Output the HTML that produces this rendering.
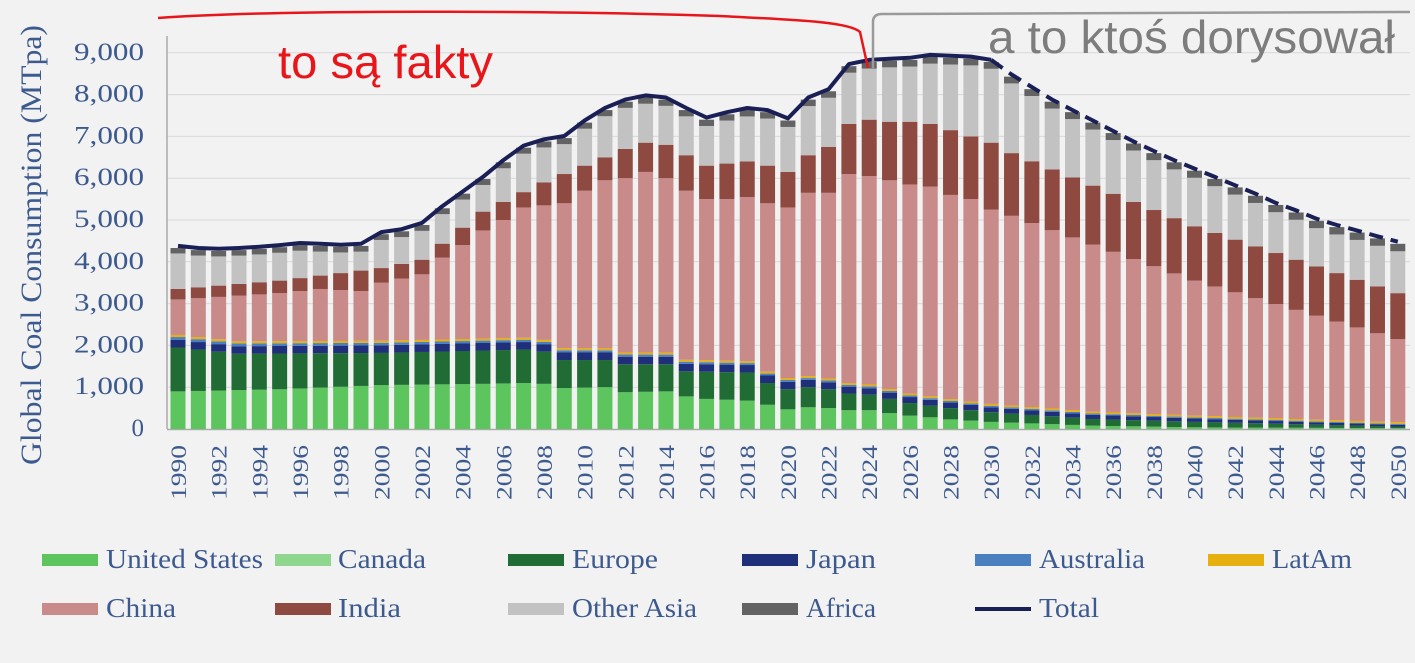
<!DOCTYPE html>
<html><head><meta charset="utf-8"><style>
body{margin:0;background:#f2f2f2;}
svg{display:block}
</style></head><body>
<svg id="c" width="1415" height="663" xmlns="http://www.w3.org/2000/svg">
<rect width="1415" height="663" fill="#f2f2f2"/>
<g id="grid"></g>
<g id="bars"></g>
<g id="lines"></g>
<g font-family="Liberation Serif, serif" fill="#3d5a8e" id="labels"></g>
<text transform="translate(41,245) rotate(-90)" text-anchor="middle" font-family="Liberation Serif, serif" font-size="30" fill="#3d5a8e" textLength="440" lengthAdjust="spacingAndGlyphs">Global Coal Consumption (MTpa)</text>
<g font-family="Liberation Serif, serif" font-size="27" fill="#3d5a8e">
<rect x="42" y="554" width="56" height="12" fill="#5dc55d"/><text x="106" y="568" textLength="157" lengthAdjust="spacingAndGlyphs">United States</text>
<rect x="275" y="554" width="56" height="12" fill="#8fd68f"/><text x="338" y="568" textLength="88" lengthAdjust="spacingAndGlyphs">Canada</text>
<rect x="508" y="554" width="56" height="12" fill="#216b35"/><text x="572" y="568" textLength="86" lengthAdjust="spacingAndGlyphs">Europe</text>
<rect x="742" y="554" width="56" height="12" fill="#1f2f7a"/><text x="806" y="568" textLength="70" lengthAdjust="spacingAndGlyphs">Japan</text>
<rect x="975" y="554" width="56" height="12" fill="#4a80bf"/><text x="1039" y="568" textLength="106" lengthAdjust="spacingAndGlyphs">Australia</text>
<rect x="1208" y="554" width="56" height="12" fill="#e6b010"/><text x="1272" y="568" textLength="80" lengthAdjust="spacingAndGlyphs">LatAm</text>
<rect x="42" y="603" width="56" height="12" fill="#c98a8a"/><text x="106" y="617" textLength="70" lengthAdjust="spacingAndGlyphs">China</text>
<rect x="275" y="603" width="56" height="12" fill="#8e4a40"/><text x="338" y="617" textLength="63" lengthAdjust="spacingAndGlyphs">India</text>
<rect x="508" y="603" width="56" height="12" fill="#c2c2c2"/><text x="572" y="617" textLength="125" lengthAdjust="spacingAndGlyphs">Other Asia</text>
<rect x="742" y="603" width="56" height="12" fill="#636363"/><text x="806" y="617" textLength="70" lengthAdjust="spacingAndGlyphs">Africa</text>
<rect x="975" y="607" width="56" height="4" fill="#1a1f55"/><text x="1039" y="617" textLength="60" lengthAdjust="spacingAndGlyphs">Total</text>
</g>
<path d="M158,18 C300,8 600,12 720,16 C800,20 850,22 860,32 L868,68" fill="none" stroke="#e8161b" stroke-width="2.5"/>
<text x="278" y="78" font-family="Liberation Sans, sans-serif" font-size="46" fill="#e8161b" textLength="215" lengthAdjust="spacingAndGlyphs">to są fakty</text>
<path d="M873,68 L873,22 Q873,14 882,14 L1410,12" fill="none" stroke="#9a9a9a" stroke-width="2.5"/>
<text x="988" y="53" font-family="Liberation Sans, sans-serif" font-size="46" fill="#7d7d7d" textLength="407" lengthAdjust="spacingAndGlyphs">a to ktoś dorysował</text>
</svg>
<script>
function interp(k,y){for(var i=0;i<k.length-1;i++){if(y>=k[i][0]&&y<=k[i+1][0]){var t=(y-k[i][0])/(k[i+1][0]-k[i][0]);return k[i][1]+t*(k[i+1][1]-k[i][1]);}}return k[k.length-1][1];}
var Y0=429,S=41.8/1000;
function py(v){return Y0-v*S;}
var NS="http://www.w3.org/2000/svg";
function el(n,a,p){var e=document.createElementNS(NS,n);for(var k in a)e.setAttribute(k,a[k]);p.appendChild(e);return e;}
var grid=document.getElementById('grid'),bars=document.getElementById('bars'),lines=document.getElementById('lines'),labels=document.getElementById('labels');
for(var g=1;g<=9;g++)el('line',{x1:167,x2:1410,y1:py(g*1000),y2:py(g*1000),stroke:'#d8d8d8','stroke-width':1},grid);
for(var g=0;g<=9;g++){var a={x:144,y:py(g*1000)+7,'text-anchor':'end','font-size':25};if(g>0){a.textLength=70;a.lengthAdjust='spacingAndGlyphs';}var t=el('text',a,labels);t.textContent=g==0?'0':(g+',000');}
el('line',{x1:167,x2:167,y1:36,y2:429,stroke:'#aaaaaa','stroke-width':1.5},grid);
var US=[[1990,900],[1995,950],[2000,1050],[2005,1080],[2007,1100],[2008,1080],[2009,980],[2011,1000],[2012,880],[2014,900],[2015,780],[2016,720],[2018,680],[2019,580],[2020,470],[2021,520],[2022,500],[2023,450],[2024,450],[2025,380],[2026,320],[2027,280],[2028,230],[2030,170],[2035,80],[2040,40],[2050,20]];
var EU=[[1990,1950],[1993,1800],[2000,1820],[2007,1900],[2008,1850],[2009,1650],[2011,1650],[2012,1550],[2014,1550],[2015,1380],[2018,1350],[2019,1100],[2020,950],[2021,1000],[2022,950],[2023,850],[2024,820],[2025,720],[2026,620],[2027,560],[2028,500],[2030,400],[2035,240],[2040,170],[2050,60]];
var JP=[[1990,180],[2020,180],[2030,120],[2050,40]],AU=[[1990,70],[2050,20]],LA=[[1990,50],[2050,40]];
var CN=[[1990,3100],[1995,3250],[1997,3350],[1999,3300],[2000,3500],[2002,3700],[2003,4100],[2004,4400],[2005,4750],[2006,5000],[2007,5300],[2008,5350],[2009,5400],[2010,5700],[2011,5950],[2012,6000],[2013,6150],[2014,6000],[2015,5700],[2016,5500],[2017,5500],[2018,5550],[2019,5400],[2020,5300],[2021,5650],[2022,5650],[2023,6100],[2024,6050],[2025,5950],[2026,5850],[2027,5800],[2028,5600],[2029,5500],[2030,5250],[2031,5100],[2040,3550],[2050,2150]];
var IN=[[1990,3350],[1995,3550],[2000,3850],[2002,4050],[2005,5200],[2008,5900],[2010,6300],[2012,6700],[2013,6850],[2014,6800],[2015,6550],[2016,6300],[2017,6350],[2018,6400],[2019,6300],[2020,6150],[2021,6550],[2022,6750],[2023,7300],[2024,7400],[2025,7350],[2026,7350],[2027,7300],[2028,7150],[2029,7000],[2030,6850],[2031,6600],[2040,4850],[2050,3250]];
var TOT=[[1990,4350],[1991,4300],[1992,4280],[1993,4300],[1994,4330],[1995,4370],[1996,4420],[1997,4400],[1998,4380],[1999,4400],[2000,4680],[2001,4750],[2002,4900],[2003,5300],[2004,5650],[2005,6000],[2006,6400],[2007,6750],[2008,6900],[2009,6980],[2010,7350],[2011,7650],[2012,7850],[2013,7950],[2014,7900],[2015,7650],[2016,7420],[2017,7550],[2018,7650],[2019,7600],[2020,7400],[2021,7900],[2022,8100],[2023,8700],[2024,8800],[2025,8830],[2026,8850],[2027,8920],[2028,8900],[2029,8880],[2030,8800],[2031,8450],[2032,8150],[2033,7850],[2034,7600],[2035,7350],[2036,7100],[2037,6850],[2038,6620],[2039,6400],[2040,6200],[2041,6000],[2042,5800],[2043,5600],[2044,5380],[2045,5200],[2046,5000],[2047,4850],[2048,4720],[2049,4580],[2050,4450]];
var pts1=[],pts2=[];
for(var y=1990;y<=2050;y++){
 var cx=178+(y-1990)*20.33,x=cx-7.5;
 var us=interp(US,y),eu=interp(EU,y),jp=eu+interp(JP,y),au=jp+interp(AU,y),la=au+interp(LA,y);
 var cn=interp(CN,y),ind=interp(IN,y),tot=interp(TOT,y),af=150+(y-1990)*0.8,oa=tot-af;
 var segs=[[0,us,'#5dc55d'],[us,eu,'#216b35'],[eu,jp,'#1f2f7a'],[jp,au,'#4a80bf'],[au,la,'#e6b010'],[la,cn,'#c98a8a'],[cn,ind,'#8e4a40'],[ind,oa,'#c2c2c2'],[oa,tot-20,'#636363']];
 segs.forEach(function(s){el('rect',{x:x,y:py(s[1]),width:15,height:Math.max(0,py(s[0])-py(s[1])),fill:s[2]},bars);});
 var p=cx+','+py(tot+30).toFixed(1);
 if(y<=2030)pts1.push(p); if(y>=2030)pts2.push(p);
 if(y%2==0){var t=el('text',{transform:'translate('+(cx+8)+',445) rotate(-90)','text-anchor':'end','font-size':22,textLength:55,lengthAdjust:'spacingAndGlyphs'},labels);t.textContent=y;}
}
el('line',{x1:167,x2:1410,y1:429.5,y2:429.5,stroke:'#aaaaaa','stroke-width':1.5},grid);
el('polyline',{points:pts1.join(' '),fill:'none',stroke:'#1a1f55','stroke-width':4,'stroke-linejoin':'round'},lines);
el('polyline',{points:pts2.join(' '),fill:'none',stroke:'#1a1f55','stroke-width':4,'stroke-dasharray':'14 8'},lines);
</script>
</body></html>
